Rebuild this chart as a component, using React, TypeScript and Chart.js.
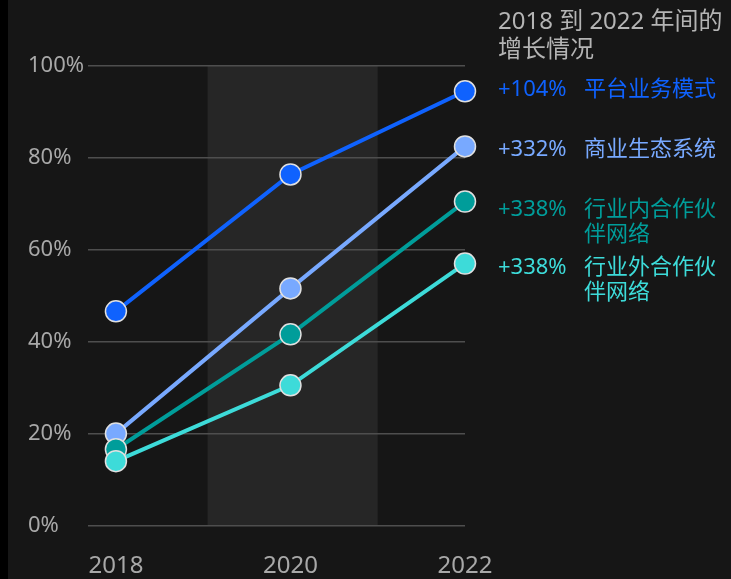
import React, { useEffect, useRef } from "react";
import { Chart, registerables } from "chart.js";

Chart.register(...registerables);

const years = [2018, 2020, 2022];
const xTicks = [2018, 2020, 2022];
const yTicks = [0, 20, 40, 60, 80, 100];
const platformModel = [46.6, 76.4, 94.5];
const businessEcosystem = [20.0, 51.6, 82.5];
const inIndustryPartners = [16.6, 41.6, 70.5];
const crossIndustryPartners = [14.0, 30.5, 57.0];
const seriesNames = [["平台业务模式"], ["商业生态系统"], ["行业内合作伙", "伴网络"], ["行业外合作伙", "伴网络"]];
const growthLabels = ["+104%", "+332%", "+338%", "+338%"];
const titleLines = ["2018 到 2022 年间的", "增长情况"];
const highlightRange = [2019.05, 2021.0];

const colors = ["#0f62fe", "#78a9ff", "#009d9a", "#3ddbd9"];
const labelDy = [-2, 3, 8, 4];
const FONT = '"Noto Sans", "Noto Sans CJK SC", sans-serif';

const overlayPlugin = {
  id: "overlay",
  beforeDraw(chart: any) {
    const { ctx, chartArea, scales } = chart;
    const x0 = scales.x.getPixelForValue(highlightRange[0]);
    const x1 = scales.x.getPixelForValue(highlightRange[1]);
    ctx.save();
    ctx.fillStyle = "#262626";
    ctx.fillRect(x0, chartArea.top, x1 - x0, chartArea.bottom - chartArea.top);
    ctx.restore();
  },
  afterDraw(chart: any) {
    const { ctx, chartArea, scales } = chart;
    const left = chartArea.right + 33;
    ctx.save();
    ctx.textBaseline = "middle";
    ctx.textAlign = "left";
    ctx.font = `24px ${FONT}`;
    ctx.fillStyle = "#b4b4b4";
    titleLines.forEach((t, i) => ctx.fillText(t, left, 22 + i * 28));
    ctx.font = `22px ${FONT}`;
    chart.data.datasets.forEach((ds: any, i: number) => {
      const last = ds.data[ds.data.length - 1];
      const y = scales.y.getPixelForValue(last.y) + labelDy[i];
      ctx.fillStyle = colors[i];
      ctx.fillText(growthLabels[i], left, y);
      seriesNames[i].forEach((line, j) => ctx.fillText(line, left + 86, y + j * 25));
    });
    ctx.restore();
  },
};

export default function App() {
  const ref = useRef<HTMLCanvasElement>(null);
  useEffect(() => {
    document.body.style.margin = "0";
    document.body.style.background = "#000";
    const series = [platformModel, businessEcosystem, inIndustryPartners, crossIndustryPartners];
    const chart = new Chart(ref.current!, {
      type: "line",
      data: {
        datasets: series.map((s, i) => ({
          label: seriesNames[i].join(""),
          data: s.map((v, k) => ({ x: years[k], y: v })),
          borderColor: colors[i],
          backgroundColor: colors[i],
          borderWidth: 4,
          pointRadius: 10.5,
          pointBorderWidth: 1.5,
          pointBorderColor: "#e0e0e0",
          pointBackgroundColor: colors[i],
          order: i === 0 ? 0 : 5 - i,
          tension: 0,
          clip: false,
        })),
      },
      options: {
        animation: false,
        responsive: true,
        maintainAspectRatio: false,
        layout: { padding: { left: 20, top: 66, right: 266, bottom: 0 } },
        plugins: { legend: { display: false }, tooltip: { enabled: false } },
        scales: {
          x: {
            type: "linear",
            min: 2017.68,
            max: 2022,
            afterBuildTicks: (scale: any) => {
              scale.ticks = xTicks.map((v) => ({ value: v }));
            },
            afterFit: (scale: any) => {
              scale.height = 53.5;
            },
            grid: { display: false, drawTicks: false },
            border: { display: false },
            ticks: {
              color: "#a8a8a8",
              font: { family: FONT, size: 24 },
              padding: 26,
              maxRotation: 0,
              autoSkip: false,
              callback: (v: any) => String(v),
            },
          },
          y: {
            min: 0,
            max: 100,
            afterBuildTicks: (scale: any) => {
              scale.ticks = yTicks.map((v) => ({ value: v }));
            },
            afterFit: (scale: any) => {
              scale.width = 60;
            },
            grid: { color: "#4e4e4e", lineWidth: 1.5, drawTicks: false },
            border: { display: false },
            ticks: {
              color: "#a8a8a8",
              font: { family: FONT, size: 22 },
              crossAlign: "far",
              padding: 4,
              callback: (v: any) => v + "%",
            },
          },
        },
      },
      plugins: [overlayPlugin],
    } as any);
    return () => chart.destroy();
  }, []);
  return (
    <div style={{ marginLeft: 8, width: 723, height: 579, background: "#161616", position: "relative" }}>
      <canvas ref={ref} />
    </div>
  );
}
